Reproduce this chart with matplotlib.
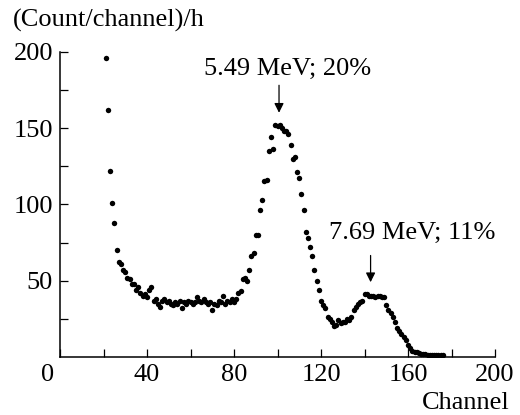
import matplotlib
matplotlib.use("Agg")
import matplotlib.pyplot as plt

plt.rcParams['font.family'] = ['Liberation Serif', 'DejaVu Serif']

channels = list(range(21, 177))
counts = [196, 162, 122, 101, 88, 70, 62, 61, 57, 56,
          52, 51, 48, 48, 44, 46, 42, 40, 41, 39,
          44, 46, 37, 38, 35, 33, 37, 38, 36, 37,
          35, 34, 36, 35, 37, 32, 36, 35, 37, 36,
          35, 36, 39, 37, 36, 38, 36, 35, 36, 31,
          35, 34, 37, 36, 40, 35, 37, 36, 38, 36,
          38, 42, 43, 51, 52, 50, 57, 66, 68, 80,
          80, 96, 103, 115, 116, 135, 144, 136, 152, 151,
          152, 150, 148, 148, 146, 139, 130, 131, 121, 117,
          107, 96, 82, 78, 72, 66, 57, 50, 44, 37,
          34, 32, 26, 25, 23, 20, 21, 24, 22, 23,
          23, 25, 24, 26, 31, 33, 35, 36, 37, 41,
          41, 40, 40, 40, 39, 40, 40, 39, 39, 34,
          31, 29, 26, 23, 19, 17, 15, 13, 11, 8,
          6, 4, 3, 3, 2.5, 2, 2, 2, 1.5, 1.5,
          1.5, 1, 1, 1, 1, 1]

x_ticks = list(range(0, 201, 20))
x_labels = ['' if (v % 40 or v == 0) else str(v) for v in x_ticks]
y_ticks = list(range(25, 201, 25))
y_labels = [str(v) if v % 50 == 0 else '' for v in y_ticks]

peak_labels = ['5.49 MeV; 20%', '7.69 MeV; 11%']
peak_channels = [100.7, 142.8]

FS = 19

fig = plt.figure(figsize=(5.2, 4.15), dpi=100)
ax = fig.add_axes([60/520, 1-357/415, 435/520, (357-51.7)/415])

ax.plot(channels, counts, 'o', color='black', ms=3.9, mec='none')

ax.set_xlim(0, 200)
ax.set_ylim(0, 200)
ax.set_xticks(x_ticks)
ax.set_xticklabels(x_labels)
ax.set_yticks(y_ticks)
ax.set_yticklabels(y_labels)
for s in ['top', 'right']:
    ax.spines[s].set_visible(False)
for s in ['left', 'bottom']:
    ax.spines[s].set_linewidth(1.1)
ax.tick_params(direction='in', length=5.5, width=0.9, labelsize=FS, pad=5)

# arrows and labels
ax.annotate('', xy=(peak_channels[0], 160), xytext=(peak_channels[0], 178),
            arrowprops=dict(arrowstyle='-|>', color='black', lw=0.9,
                            mutation_scale=14, shrinkA=0, shrinkB=0))
ax.text(104.6, 189, peak_labels[0], ha='center', va='center', fontsize=FS)
ax.annotate('', xy=(peak_channels[1], 49), xytext=(peak_channels[1], 66.5),
            arrowprops=dict(arrowstyle='-|>', color='black', lw=0.9,
                            mutation_scale=14, shrinkA=0, shrinkB=0))
ax.text(162, 81.5, peak_labels[1], ha='center', va='center', fontsize=FS)

fig.text(13/520, 1-20/415, '(Count/channel)/h', ha='left', va='center', fontsize=FS)
fig.text(510/520, 1-403/415, 'Channel', ha='right', va='center', fontsize=FS)
fig.text(48/520, 1-375/415, '0', ha='center', va='center', fontsize=FS)

fig.savefig('out.png', dpi=100)
